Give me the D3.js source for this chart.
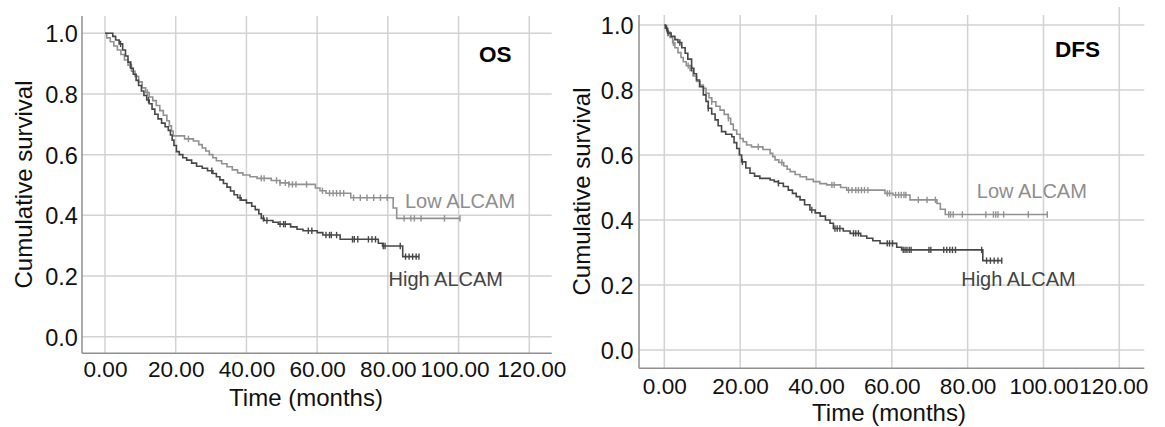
<!DOCTYPE html>
<html>
<head>
<meta charset="utf-8">
<script src="https://cdn.jsdelivr.net/npm/d3@7"></script>
<style>
html,body{margin:0;padding:0;background:#fff;}
svg{display:block;font-family:"Liberation Sans",Arial,sans-serif;}
</style>
</head>
<body>
<svg id="chart" width="1165" height="427"></svg>
<script>
// ---------- DATA ----------
const panelTitles = ["OS", "DFS"];
const seriesNames = ["Low ALCAM", "High ALCAM"];
const xTickValues = [0, 20, 40, 60, 80, 100, 120];
const yTickValues = [0, 0.2, 0.4, 0.6, 0.8, 1.0];
const xAxisTitle = "Time (months)";
const yAxisTitle = "Cumulative survival";

// OS - Low ALCAM
const osLowT = [0.5,1.5,2.5,3.5,4.5,5.5,6.5,7.5,8.5,9.5,10.5,11.5,12.5,13.5,14.5,15.5,16.5,17.5,18.2,18.8,19.3,22.5,25,26.5,27.5,28.5,29.5,30.5,31.5,33,34.5,36,37.5,39,41,43,47,49.5,52,59.5,60.8,62.5,69.5,81.5,82.5];
const osLowS = [0.985,0.972,0.958,0.945,0.93,0.912,0.895,0.875,0.858,0.84,0.82,0.805,0.79,0.778,0.762,0.745,0.73,0.712,0.695,0.678,0.662,0.652,0.645,0.633,0.622,0.612,0.6,0.59,0.58,0.57,0.56,0.55,0.54,0.533,0.527,0.522,0.515,0.507,0.502,0.49,0.481,0.473,0.458,0.424,0.39];
const osLowCensor = [7,12,23.6,44.2,45,48.5,49.5,51,52,53,54,57,61.5,63.5,64.5,65.5,66.5,67.5,70.3,72.2,74.1,76,77.9,79.8,84.6,86.5,87.5,89.4,96,100.4];
const osLowEnd = 100.4;

// OS - High ALCAM
const osHighT = [2.2,3,4,5,5.8,6.5,7.3,8,8.8,9.5,10.3,11,11.8,12.5,13.3,14.1,15,16,17,17.9,18.5,19,19.5,20.2,21,22,23.1,24.5,25.9,27.5,29,30.5,31.5,32.5,33.5,34.5,35.5,36.5,37.5,38.5,40,41.5,42.5,43.5,44.2,45,47.5,49,52.5,54.3,56,60,61.6,66.5,77.3,78.5,84.2];
const osHighS = [0.99,0.978,0.965,0.945,0.925,0.905,0.885,0.865,0.845,0.828,0.81,0.795,0.78,0.768,0.75,0.733,0.718,0.704,0.692,0.68,0.665,0.648,0.63,0.61,0.6,0.59,0.582,0.572,0.562,0.555,0.547,0.538,0.527,0.517,0.505,0.493,0.48,0.468,0.458,0.45,0.441,0.43,0.419,0.405,0.39,0.383,0.377,0.371,0.362,0.354,0.349,0.343,0.335,0.321,0.308,0.299,0.264];
const osHighCensor = [4.4,12.3,30.2,38.2,44.8,45.8,49.5,50.5,51,57.5,58.5,62.5,63.5,64,65.5,70,70.5,71.5,74.5,75.5,76.5,78.7,79.2,83.5,85,86,87,88,88.8];
const osHighEnd = 88.8;

// DFS - Low ALCAM
const dfsLowT = [0.3,0.8,1.5,2.2,2.8,3.6,4.4,5,5.8,6.8,7.6,8.5,9.4,10.3,11,11.8,12.5,13.6,14.7,15.8,16.9,17.5,18.2,19.1,20,20.8,21.7,23,26,27.9,28.6,29.2,30.2,31.5,32.4,33.2,34.5,35.8,37.5,39.3,41,42.8,46.5,48.1,58.2,60.3,64.8,71.9,72.8,74.1];
const dfsLowS = [0.99,0.978,0.962,0.945,0.93,0.915,0.9,0.887,0.875,0.86,0.843,0.826,0.815,0.805,0.79,0.776,0.764,0.75,0.738,0.725,0.713,0.695,0.677,0.664,0.651,0.641,0.631,0.625,0.617,0.605,0.595,0.585,0.577,0.566,0.556,0.549,0.54,0.533,0.525,0.518,0.512,0.508,0.5,0.492,0.482,0.477,0.462,0.451,0.433,0.417];
const dfsLowCensor = [2.4,6.3,12.5,16.9,24.8,31,44.2,44.8,48.6,49.5,50.5,51.2,52,52.8,53.7,58.8,59.4,61,61.8,62.5,63.2,63.7,67,69.3,71.5,75,75.5,76.2,78.6,84.8,86.8,87.4,88,89.5,96,101];
const dfsLowEnd = 101;

// DFS - High ALCAM
const dfsHighT = [0.3,0.9,1.8,2.8,3.6,4.6,5.5,6.2,7.2,7.8,8.5,9.3,10.3,11,11.6,12.5,13.4,14.2,15.1,16.2,17.8,18.4,19.1,19.8,20.4,21.5,22.6,23.8,25.2,27.9,29,30.1,31.4,32.7,33.8,34.8,35.8,37,38.4,39.8,41.1,42.5,43.7,44.6,47.2,49,51.8,53.4,55,56.9,61.3,62.6,84];
const dfsHighS = [0.99,0.975,0.965,0.955,0.946,0.93,0.913,0.895,0.867,0.85,0.831,0.81,0.785,0.765,0.744,0.726,0.708,0.69,0.672,0.664,0.656,0.638,0.62,0.6,0.579,0.56,0.544,0.535,0.528,0.523,0.518,0.513,0.503,0.492,0.482,0.472,0.462,0.447,0.431,0.422,0.412,0.4,0.39,0.374,0.366,0.359,0.351,0.344,0.336,0.328,0.316,0.308,0.275];
const dfsHighCensor = [0.6,1,4.1,7.2,11.6,20.6,30.1,38.9,45,45.6,46.3,49.9,50.5,51.2,58.8,59.4,60.2,63,63.5,64,64.6,65.1,69.8,70.3,73.7,74.5,75.3,76,76.8,83.7,85,86,87,88,89];
const dfsHighEnd = 89;

// ---------- LAYOUT (positions/styles kept separate) ----------
const layouts = [
  {axisX:82, right:551.7, top:16, bottom:353.3, x0:105, x120:529.3, y0:336.7, y1:33.3,
   yLabelX:77.8, xLabelY:377, xTitleX:306, xTitleY:405.5, yTitleX:31.5, yTitleY:184.5,
   titleX:479, titleY:62, lowX:405, lowY:208, highX:388.5, highY:286, topExtra:16,
   xLabelShift:{100:-4, 120:2}},
  {axisX:639, right:1144.3, top:15, bottom:368.3, x0:664.3, x120:1119.3, y0:350, y1:25,
   yLabelX:633.5, xLabelY:393.5, xTitleX:889, xTitleY:420.5, yTitleX:589.5, yTitleY:191.5,
   titleX:1055, titleY:56.7, lowX:976.8, lowY:198.3, highX:961.2, highY:286, topExtra:7,
   xLabelShift:{120:-6}}
];
const colors = {grid:"#d2d2d2", axis:"#8f8f8f", low:"#919191", high:"#474747", text:"#111"};

const panelData = [
  {low:{T:osLowT,S:osLowS,C:osLowCensor,end:osLowEnd}, high:{T:osHighT,S:osHighS,C:osHighCensor,end:osHighEnd}},
  {low:{T:dfsLowT,S:dfsLowS,C:dfsLowCensor,end:dfsLowEnd}, high:{T:dfsHighT,S:dfsHighS,C:dfsHighCensor,end:dfsHighEnd}}
];

const svg = d3.select("#chart");

function stepPoints(d){
  const pts = [{t:0,s:1}];
  d.T.forEach((t,i)=>pts.push({t:t,s:d.S[i]}));
  pts.push({t:d.end,s:d.S[d.S.length-1]});
  return pts;
}
function survAt(d,t){
  const i = d3.bisectRight(d.T,t)-1;
  return i<0 ? 1 : d.S[i];
}

panelTitles.forEach((title,pi)=>{
  const L = layouts[pi];
  const x = d3.scaleLinear().domain([0,120]).range([L.x0,L.x120]);
  const y = d3.scaleLinear().domain([0,1]).range([L.y0,L.y1]);
  const g = svg.append("g");

  // gridlines
  g.selectAll(".hg").data(yTickValues).enter().append("line")
    .attr("x1",L.axisX).attr("x2",L.right)
    .attr("y1",d=>y(d)).attr("y2",d=>y(d))
    .attr("stroke",colors.grid).attr("stroke-width",1.5);
  g.selectAll(".vg").data(xTickValues).enter().append("line")
    .attr("x1",d=>x(d)).attr("x2",d=>x(d))
    .attr("y1",d=>d===120?L.topExtra:L.top).attr("y2",L.bottom)
    .attr("stroke",colors.grid).attr("stroke-width",1.5);

  // axes lines
  g.append("line").attr("x1",L.axisX).attr("x2",L.axisX).attr("y1",L.top).attr("y2",L.bottom)
    .attr("stroke",colors.axis).attr("stroke-width",1.5);
  g.append("line").attr("x1",L.axisX).attr("x2",L.right).attr("y1",L.bottom).attr("y2",L.bottom)
    .attr("stroke",colors.axis).attr("stroke-width",1.5);

  // y ticks via d3 axis (labels only)
  const yAxis = d3.axisLeft(y).tickValues(yTickValues).tickFormat(d3.format(".1f")).tickSize(0).tickPadding(0);
  const ya = g.append("g").attr("transform",`translate(${L.yLabelX},0)`).call(yAxis);
  ya.select(".domain").remove();
  ya.selectAll("text").attr("font-size","23.5px").attr("fill",colors.text)
    .attr("font-family","'Liberation Sans',Arial,sans-serif").attr("dy","0.36em").attr("x",0);

  const xAxis = d3.axisBottom(x).tickValues(xTickValues).tickFormat(d3.format(".2f")).tickSize(0).tickPadding(0);
  const xa = g.append("g").attr("transform",`translate(0,${L.xLabelY})`).call(xAxis);
  xa.select(".domain").remove();
  xa.selectAll("text").attr("font-size","22.6px").attr("fill",colors.text)
    .attr("font-family","'Liberation Sans',Arial,sans-serif").attr("dy","0").attr("y",0)
    .attr("x",d=>L.xLabelShift[d]||0);

  // axis titles
  g.append("text").attr("x",L.xTitleX).attr("y",L.xTitleY).attr("text-anchor","middle")
    .attr("font-size","24px").attr("fill",colors.text).text(xAxisTitle);
  g.append("text").attr("transform",`translate(${L.yTitleX},${L.yTitleY}) rotate(-90)`)
    .attr("text-anchor","middle").attr("font-size","24px").attr("fill",colors.text).text(yAxisTitle);

  // panel title
  g.append("text").attr("x",L.titleX).attr("y",L.titleY).attr("font-size","22.5px")
    .attr("font-weight","bold").attr("fill","#000").text(title);

  // curves
  const line = d3.line().x(d=>x(d.t)).y(d=>y(d.s)).curve(d3.curveStepAfter);
  [["low",colors.low],["high",colors.high]].forEach(([key,col])=>{
    const d = panelData[pi][key];
    g.append("path").datum(stepPoints(d)).attr("d",line)
      .attr("fill","none").attr("stroke",col).attr("stroke-width",1.6);
    g.selectAll(".c"+key).data(d.C).enter().append("line")
      .attr("x1",t=>x(t)).attr("x2",t=>x(t))
      .attr("y1",t=>y(survAt(d,t))-3.2).attr("y2",t=>y(survAt(d,t))+3.2)
      .attr("stroke",col).attr("stroke-width",1.4);
  });

  // series labels
  g.append("text").attr("x",L.lowX).attr("y",L.lowY).attr("font-size","20px")
    .attr("fill","#8e8e8e").text(seriesNames[0]);
  g.append("text").attr("x",L.highX).attr("y",L.highY).attr("font-size","20px")
    .attr("fill","#444").text(seriesNames[1]);
});
</script>
</body>
</html>
